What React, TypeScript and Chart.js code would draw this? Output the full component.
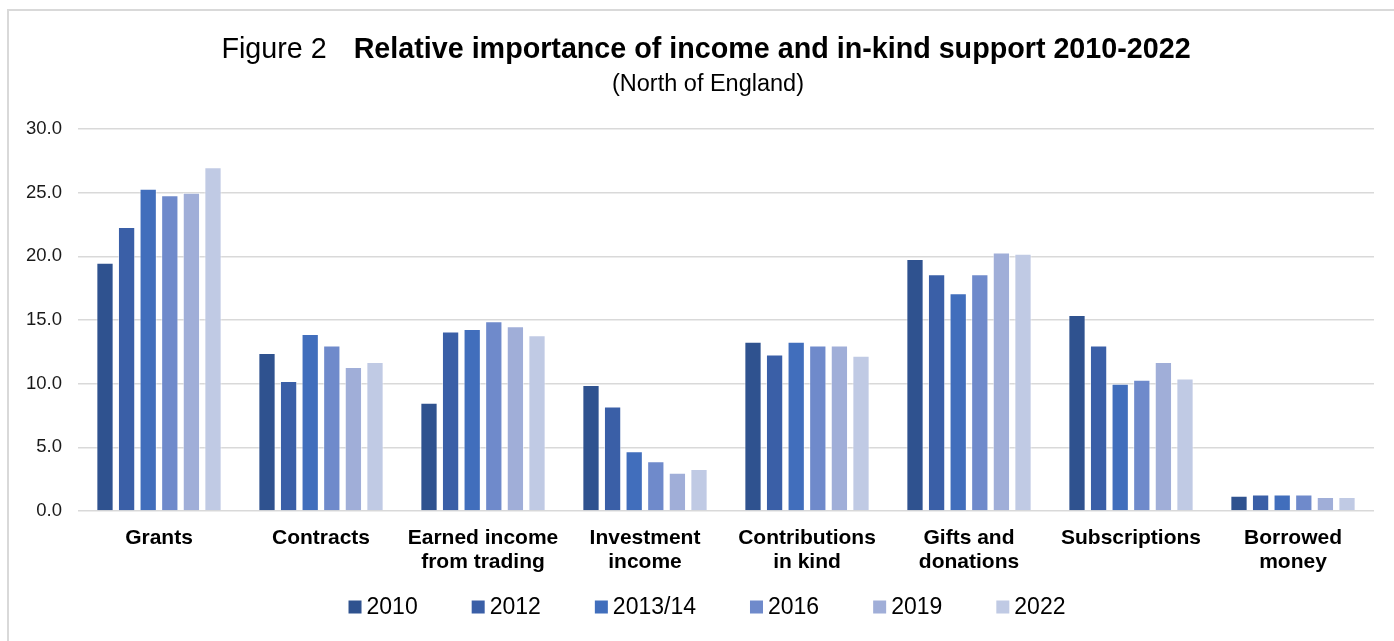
import React, { useEffect, useRef } from 'react';
import { Chart, registerables } from 'chart.js';

Chart.register(...registerables);

const FONT = '"Liberation Sans", Arial, sans-serif';

const titlePrefix = 'Figure 2';
const titleMain = 'Relative importance of income and in-kind support 2010-2022';
const subtitle = '(North of England)';

const categories: string[][] = [
  ['Grants'],
  ['Contracts'],
  ['Earned income', 'from trading'],
  ['Investment', 'income'],
  ['Contributions', 'in kind'],
  ['Gifts and', 'donations'],
  ['Subscriptions'],
  ['Borrowed', 'money'],
];

const seriesLabels = ['2010', '2012', '2013/14', '2016', '2019', '2022'];

const values2010 = [19.5, 12.4, 8.5, 9.9, 13.3, 19.8, 15.4, 1.2];
const values2012 = [22.3, 10.2, 14.1, 8.2, 12.3, 18.6, 13.0, 1.3];
const values2013 = [25.3, 13.9, 14.3, 4.7, 13.3, 17.1, 10.0, 1.3];
const values2016 = [24.8, 13.0, 14.9, 3.9, 13.0, 18.6, 10.3, 1.3];
const values2019 = [25.0, 11.3, 14.5, 3.0, 13.0, 20.3, 11.7, 1.1];
const values2022 = [27.0, 11.7, 13.8, 3.3, 12.2, 20.2, 10.4, 1.1];

const seriesValues = [values2010, values2012, values2013, values2016, values2019, values2022];
const seriesColors = ['#2F528F', '#3A5FA7', '#416EBC', '#6F8ACB', '#A0AED8', '#C0CAE4'];

const yMin = 0;
const yMax = 30;
const yStep = 5;

const titlePlugin = {
  id: 'customTitle',
  afterDraw(chart: any) {
    const ctx = chart.ctx as CanvasRenderingContext2D;
    ctx.save();
    ctx.fillStyle = '#000000';
    ctx.textBaseline = 'alphabetic';
    const regular = `28.7px ${FONT}`;
    const bold = `bold 28.7px ${FONT}`;
    ctx.font = regular;
    const w1 = ctx.measureText(titlePrefix).width;
    ctx.font = bold;
    const w2 = ctx.measureText(titleMain).width;
    const gap = 27;
    const total = w1 + gap + w2;
    const cx = 706;
    const x0 = cx - total / 2;
    ctx.textAlign = 'left';
    ctx.font = regular;
    ctx.fillText(titlePrefix, x0, 58);
    ctx.font = bold;
    ctx.fillText(titleMain, x0 + w1 + gap, 58);
    ctx.font = `23.5px ${FONT}`;
    ctx.textAlign = 'center';
    ctx.fillText(subtitle, 708, 91);

    // legend
    const lf = `23px ${FONT}`;
    ctx.font = lf;
    const box = 13;
    const boxGap = 5;
    const itemGap = 54;
    const ds = chart.data.datasets;
    const widths = ds.map((d: any) => box + boxGap + ctx.measureText(d.label).width);
    const lw = widths.reduce((a: number, b: number) => a + b, 0) + itemGap * (ds.length - 1);
    let x = 707 - lw / 2;
    const ly = 607;
    ctx.textAlign = 'left';
    ctx.textBaseline = 'middle';
    ds.forEach((d: any, i: number) => {
      ctx.fillStyle = d.backgroundColor;
      ctx.fillRect(x, ly - box / 2, box, box);
      ctx.fillStyle = '#000000';
      ctx.fillText(d.label, x + box + boxGap, ly + 1);
      x += widths[i] + itemGap;
    });
    ctx.restore();
  },
};

function ChartView() {
  const ref = useRef<HTMLCanvasElement | null>(null);
  useEffect(() => {
    if (!ref.current) return;
    const chart = new Chart(ref.current, {
      type: 'bar',
      data: {
        labels: categories,
        datasets: seriesLabels.map((label, i) => ({
          label,
          data: seriesValues[i],
          backgroundColor: seriesColors[i],
          borderColor: 'rgba(255,255,255,0.55)',
          borderWidth: 1,
          categoryPercentage: 0.8,
          barPercentage: 0.8,
        })),
      },
      options: {
        animation: false,
        responsive: true,
        maintainAspectRatio: false,
        layout: { padding: { left: 0, right: 20, top: 129, bottom: 0 } },
        plugins: {
          legend: { display: false },
          title: { display: false },
          tooltip: { enabled: false },
        },
        scales: {
          x: {
            grid: { display: false },
            border: { display: false },
            ticks: {
              color: '#000000',
              font: { family: FONT, size: 21, weight: 'bold', lineHeight: 24 / 21 },
              padding: 7,
              maxRotation: 0,
              minRotation: 0,
              autoSkip: false,
            },
            afterFit: (scale: any) => {
              scale.height = 130;
            },
          },
          y: {
            min: yMin,
            max: yMax,
            grid: { color: '#D9D9D9', lineWidth: 1.5, drawTicks: false },
            border: { display: false },
            ticks: {
              stepSize: yStep,
              color: '#1A1A1A',
              font: { family: FONT, size: 18.5 },
              padding: 16,
              callback: (v: any) => Number(v).toFixed(1),
            },
            afterFit: (scale: any) => {
              scale.width = 78;
            },
          },
        },
      },
      plugins: [titlePlugin],
    } as any);
    return () => chart.destroy();
  }, []);
  return <canvas ref={ref} />;
}

export default function App() {
  return (
    <>
      <div
        style={{
          position: 'fixed',
          left: 7,
          top: 9,
          right: -10,
          bottom: -10,
          borderLeft: '2px solid #D9D9D9',
          borderTop: '2px solid #D9D9D9',
          background: '#ffffff',
        }}
      />
      <div style={{ position: 'fixed', left: 0, top: 0, width: 1394, height: 641 }}>
        <ChartView />
      </div>
    </>
  );
}
